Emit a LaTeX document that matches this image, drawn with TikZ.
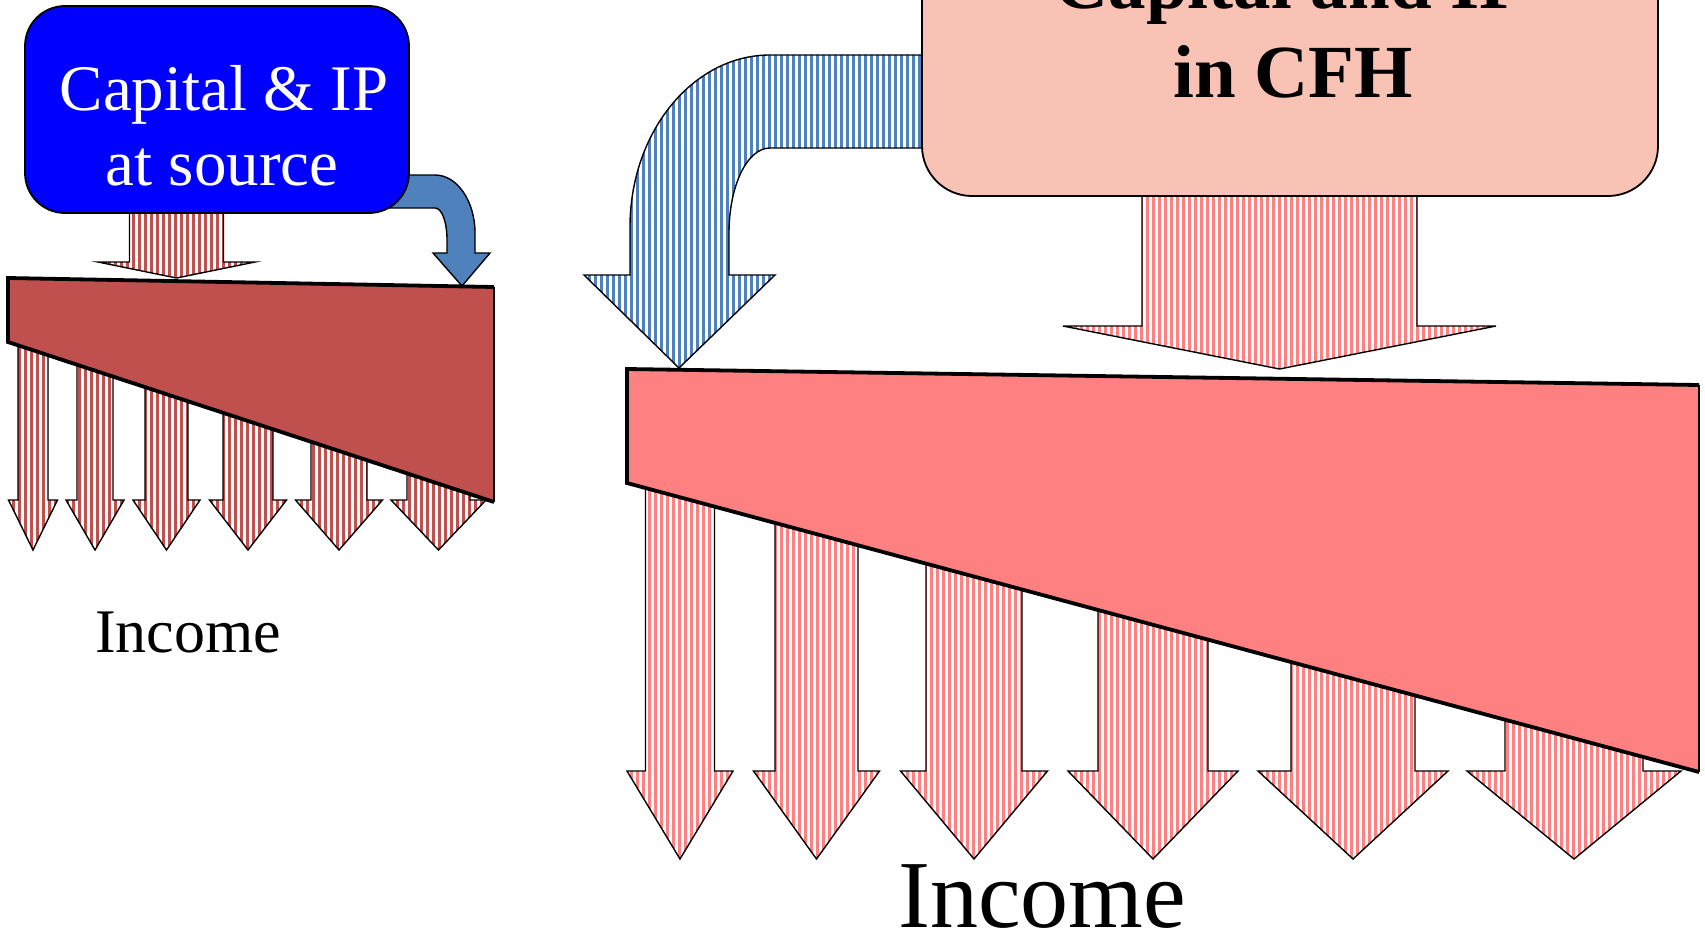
\documentclass[tikz,border=0pt]{standalone}
\usepackage{fontspec}
\setmainfont{Liberation Serif}

\definecolor{srcblue}{HTML}{0000FF}
\definecolor{cfhpink}{HTML}{F8C3B4}
\definecolor{brick}{HTML}{C0504D}
\definecolor{salmon}{HTML}{FF8080}
\definecolor{steel}{HTML}{4F81BD}

\tikzset{
  outline/.style={draw=black, line width=1.4pt, line join=miter},
  boxstyle/.style={draw=black, line width=1.8pt, rounded corners=#1, inner sep=0pt},
  wedgeedge/.style={line width=3.8pt, line join=miter},
  wedgeside/.style={line width=1.8pt},
}

% vertical stripes on a 6pt grid: x from, x to, y from, y to, colour
\newcommand\stripefill[5]{%
  \pgfmathtruncatemacro\stripeA{floor((#1)/6)}%
  \pgfmathtruncatemacro\stripeB{ceil((#2)/6)}%
  \foreach \k in {\stripeA,...,\stripeB}{\fill[#5] ({6*\k},#3) rectangle ({6*\k+3.3},#4);}}

% downward block arrow: centre x, half shaft, half head, top, head base, tip, colour
\newcommand\blockdown[7]{%
  \begin{scope}
    \clip ({#1-#2},#4) -- ({#1-#2},#5) -- ({#1-#3},#5) -- (#1,#6)
      -- ({#1+#3},#5) -- ({#1+#2},#5) -- ({#1+#2},#4) -- cycle;
    \stripefill{#1-#3}{#1+#3}{#4}{#6}{#7}
  \end{scope}
  \path[outline] ({#1-#2},#4) -- ({#1-#2},#5) -- ({#1-#3},#5) -- (#1,#6)
    -- ({#1+#3},#5) -- ({#1+#2},#5) -- ({#1+#2},#4) -- cycle;}

\begin{document}
\begin{tikzpicture}[x=1pt, y=-1pt]
\useasboundingbox (0,0) rectangle (1705,932);
\clip (0,0) rectangle (1705,932);

% ---------- left: capital & IP taxed at source ----------
\blockdown{176.5}{47}{78.5}{200}{262}{278}{brick}

\path[outline, fill=steel] (380,175) -- (435,175)
  .. controls (457,175) and (475,201) .. (475,233) -- (475,253) -- (490,253)
  -- (462,286) -- (433,253) -- (447,253) -- (447,240)
  .. controls (447,222) and (442,208) .. (435,208) -- (380,208) -- cycle;

\node[boxstyle=40pt, fill=srcblue, minimum width=384pt, minimum height=207pt]
  (src) at (217,109.5) {};
\node[anchor=base, text=white, font=\fontsize{65}{75}\selectfont] (srcA) at (224,110) {Capital \& IP};
\node[anchor=base, text=white, font=\fontsize{65}{75}\selectfont] (srcB) at (222,185) {at source};

\foreach \cx/\sw/\hw in {33/15/24.5, 95/18/29, 166.5/21.5/33.5, 248/25/38.5, 339/28/43.5, 438.5/31.5/47.5}
  {\blockdown{\cx}{\sw}{\hw}{300}{500}{550}{brick}}

\fill[brick] (8,278) -- (494,287) -- (494,502) -- (8,342) -- cycle;
\draw[wedgeedge] (494,287) -- (8,278) -- (8,342) -- (494,502);
\draw[wedgeside] (494,287) -- (494,502);

\node[anchor=base, font=\fontsize{62}{70}\selectfont] (incA) at (188,652) {Income};

% ---------- right: capital & IP held in CFH ----------
\begin{scope}
  \clip (935,55) -- (770,55)
    .. controls (693,55) and (630,132) .. (630,227) -- (630,275) -- (584,275)
    -- (679,368) -- (775,275) -- (729,275) -- (729,233)
    .. controls (729,186) and (747,148) .. (770,148) -- (935,148) -- cycle;
  \stripefill{584}{935}{55}{368}{steel}
\end{scope}
\path[outline] (935,55) -- (770,55)
  .. controls (693,55) and (630,132) .. (630,227) -- (630,275) -- (584,275)
  -- (679,368) -- (775,275) -- (729,275) -- (729,233)
  .. controls (729,186) and (747,148) .. (770,148) -- (935,148) -- cycle;

\blockdown{1279.5}{137.5}{216.5}{185}{326}{369}{salmon}

\node[boxstyle=50pt, fill=cfhpink, minimum width=736pt, minimum height=296pt]
  (cfh) at (1290,48) {};
\node[anchor=base, font=\bfseries\fontsize{75}{89}\selectfont] (cfhA) at (1290,8) {Capital and IP};
\node[anchor=base, font=\bfseries\fontsize{75}{89}\selectfont] (cfhB) at (1293,97) {in CFH};

\foreach \cx/\sw/\hw in {680/34.5/53, 816.5/41.5/63, 974/48/73.5, 1153/55/85, 1353/62/95, 1574/69/107}
  {\blockdown{\cx}{\sw}{\hw}{420}{771}{859}{salmon}}

\fill[salmon] (627,369) -- (1699,385) -- (1699,772) -- (627,483) -- cycle;
\draw[wedgeedge] (1699,385) -- (627,369) -- (627,483) -- (1699,772);
\draw[wedgeside] (1699,385) -- (1699,772);

\node[anchor=base, font=\fontsize{96}{110}\selectfont] (incB) at (1042,927) {Income};
\end{tikzpicture}
\end{document}
